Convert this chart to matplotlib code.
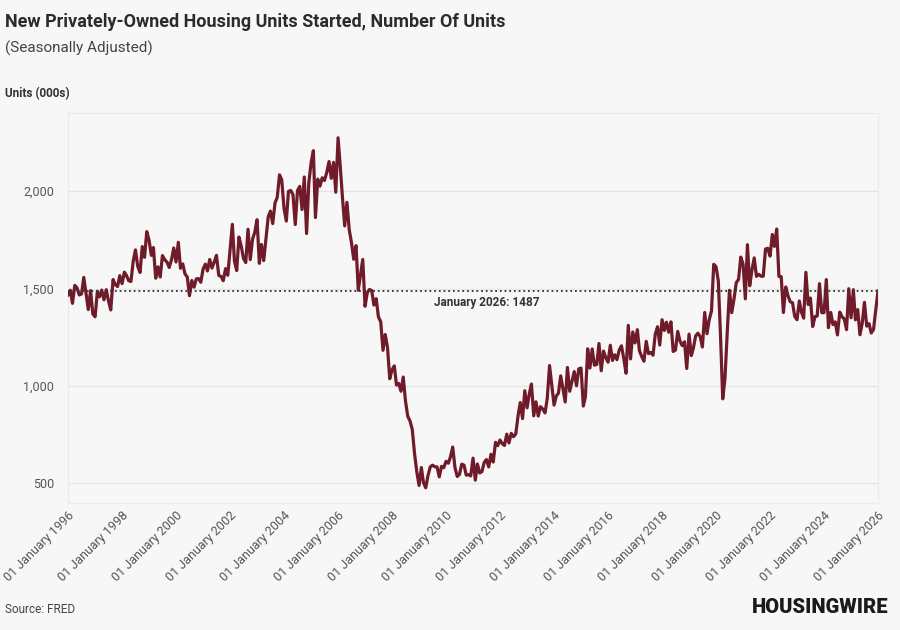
import pandas as pd
import matplotlib.pyplot as plt
import matplotlib.dates as mdates
from matplotlib.ticker import FuncFormatter

# monthly housing starts, thousands of units (SAAR)
y1996 = [1467, 1491, 1424, 1516, 1504, 1467, 1472, 1557, 1475, 1392, 1489, 1370]
y1997 = [1355, 1486, 1457, 1492, 1442, 1494, 1437, 1390, 1546, 1520, 1510, 1566]
y1998 = [1525, 1584, 1567, 1540, 1536, 1641, 1698, 1614, 1582, 1715, 1660, 1792]
y1999 = [1748, 1670, 1710, 1553, 1611, 1559, 1669, 1648, 1635, 1608, 1648, 1708]
y2000 = [1636, 1737, 1604, 1626, 1575, 1559, 1463, 1541, 1507, 1549, 1551, 1532]
y2001 = [1600, 1625, 1590, 1649, 1605, 1636, 1670, 1567, 1562, 1540, 1602, 1568]
y2002 = [1698, 1829, 1642, 1592, 1764, 1717, 1655, 1633, 1804, 1648, 1753, 1788]
y2003 = [1853, 1629, 1726, 1643, 1751, 1867, 1897, 1833, 1939, 1967, 2083, 2057]
y2004 = [1911, 1846, 1998, 2003, 1981, 1828, 2002, 2024, 1905, 2072, 1782, 2042]
y2005 = [2144, 2207, 1864, 2061, 2025, 2068, 2054, 2095, 2151, 2065, 2147, 1994]
y2006 = [2273, 2119, 1969, 1821, 1942, 1802, 1737, 1650, 1720, 1491, 1570, 1649]
y2007 = [1409, 1480, 1495, 1490, 1415, 1448, 1354, 1330, 1183, 1264, 1197, 1037]
y2008 = [1084, 1103, 1005, 1013, 973, 1046, 923, 844, 820, 777, 652, 560]
y2009 = [490, 582, 505, 478, 540, 585, 594, 586, 585, 534, 588, 581]
y2010 = [614, 604, 636, 687, 583, 536, 546, 599, 594, 543, 545, 539]
y2011 = [630, 517, 600, 554, 561, 608, 623, 585, 650, 610, 711, 694]
y2012 = [723, 704, 695, 753, 708, 757, 740, 754, 847, 915, 833, 976]
y2013 = [888, 962, 1010, 847, 919, 846, 894, 882, 862, 936, 1105, 1003]
y2014 = [902, 949, 963, 1052, 987, 918, 1095, 973, 1024, 1074, 1001, 1088]
y2015 = [1092, 897, 944, 1191, 1092, 1190, 1107, 1110, 1218, 1078, 1179, 1146]
y2016 = [1122, 1209, 1131, 1160, 1135, 1185, 1206, 1141, 1065, 1311, 1139, 1277]
y2017 = [1221, 1289, 1181, 1151, 1127, 1229, 1166, 1172, 1158, 1265, 1304, 1210]
y2018 = [1340, 1285, 1327, 1276, 1329, 1177, 1184, 1280, 1230, 1207, 1227, 1090]
y2019 = [1266, 1156, 1195, 1257, 1271, 1253, 1200, 1377, 1268, 1340, 1385, 1624]
y2020 = [1612, 1539, 1269, 934, 1038, 1275, 1491, 1376, 1448, 1530, 1547, 1661]
y2021 = [1625, 1447, 1725, 1514, 1594, 1657, 1562, 1573, 1563, 1563, 1703, 1706]
y2022 = [1666, 1777, 1716, 1805, 1562, 1561, 1377, 1508, 1463, 1432, 1427, 1357]
y2023 = [1340, 1436, 1380, 1348, 1583, 1418, 1451, 1305, 1356, 1359, 1525, 1376]
y2024 = [1376, 1546, 1299, 1377, 1315, 1329, 1262, 1379, 1355, 1344, 1289, 1499]
y2025 = [1350, 1494, 1339, 1392, 1263, 1321, 1429, 1307, 1320, 1272, 1290, 1390]
y2026 = [1487]

starts = (y1996 + y1997 + y1998 + y1999 + y2000 + y2001 + y2002 + y2003 + y2004
          + y2005 + y2006 + y2007 + y2008 + y2009 + y2010 + y2011 + y2012 + y2013
          + y2014 + y2015 + y2016 + y2017 + y2018 + y2019 + y2020 + y2021 + y2022
          + y2023 + y2024 + y2025 + y2026)
dates = pd.date_range('1996-01-01', periods=len(starts), freq='MS')

latest_label = 'January 2026: 1487'
latest_value = 1487
tick_years = list(range(1996, 2027, 2))
y_ticks = [500, 1000, 1500, 2000]

bg = '#f7f7f7'
line_col = '#701b2a'

plt.rcParams['font.family'] = ['Roboto', 'DejaVu Sans']

fig = plt.figure(figsize=(9, 6.3), dpi=100, facecolor=bg)
ax = fig.add_axes([0.0756, 0.2016, 0.9, 0.619])
ax.set_facecolor(bg)

ax.plot(dates, starts, color=line_col, lw=2.3, solid_joinstyle='round', zorder=3)
ax.axhline(latest_value, color='#333333', lw=1.3, ls=(0, (1, 1.6)), zorder=4)
ax.text(pd.Timestamp('2011-07-01'), latest_value - 25, latest_label, ha='center', va='top',
        fontsize=8.5, fontweight='bold', color='#333333', zorder=5)

ax.set_xlim(dates[0], dates[-1])
ax.set_ylim(400, 2400)
ax.set_yticks(y_ticks)
ax.yaxis.set_major_formatter(FuncFormatter(lambda v, p: f'{int(v):,}'))
ax.set_xticks([pd.Timestamp(f'{y}-01-01') for y in tick_years])
ax.xaxis.set_major_formatter(mdates.DateFormatter('%d %B %Y'))
for lab in ax.get_xticklabels():
    lab.set_rotation(45)
    lab.set_ha('right')
    lab.set_rotation_mode('anchor')

ax.grid(axis='y', color='#e4e4e4', lw=0.9)
ax.tick_params(length=0, labelsize=9, labelcolor='#555555')
ax.tick_params(axis='y', pad=10)
ax.tick_params(axis='x', pad=4)
for s in ax.spines.values():
    s.set_color('#ebebeb')
    s.set_linewidth(0.9)

fig.text(0.006, 0.965, 'New Privately-Owned Housing Units Started, Number Of Units',
         fontsize=13, fontweight='bold', color='#2b2b2b', va='center')
fig.text(0.006, 0.923, '(Seasonally Adjusted)', fontsize=11, color='#444444', va='center')
fig.text(0.006, 0.852, 'Units (000s)', fontsize=8.5, fontweight='bold', color='#333333', va='center')
fig.text(0.006, 0.032, 'Source: FRED', fontsize=8.5, color='#444444', va='center')
fig.text(0.987, 0.036, 'HOUSINGWIRE', fontsize=14.5, fontweight='heavy', color='#1a1a1a',
         ha='right', va='center')

fig.savefig('out.png', dpi=100, facecolor=bg)
